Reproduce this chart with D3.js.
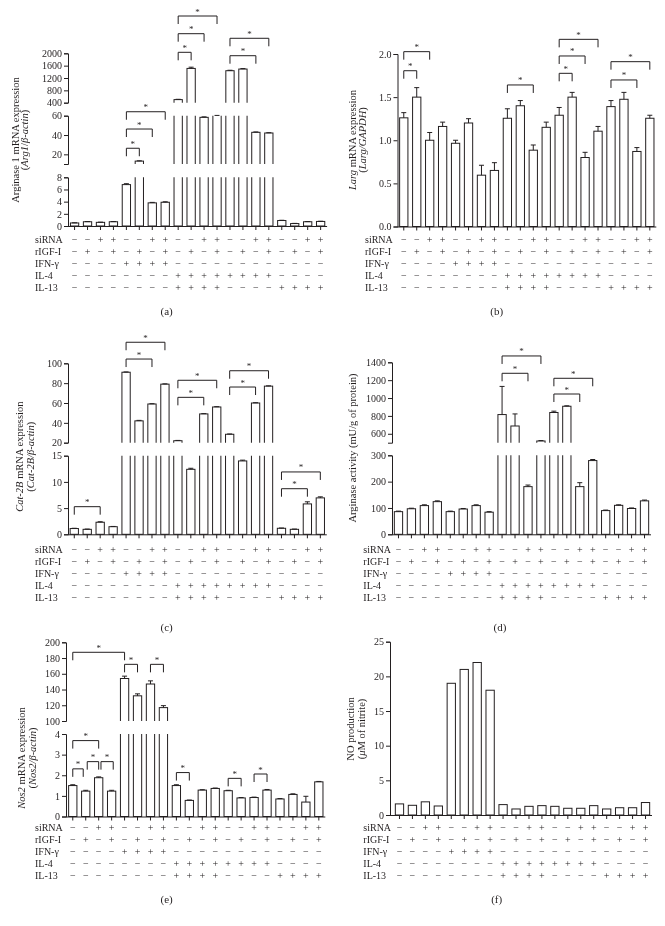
<!DOCTYPE html>
<html><head><meta charset="utf-8">
<script src="https://cdn.jsdelivr.net/npm/d3@7"></script>
<style>
body{margin:0;background:#fff}
svg{display:block;font-family:"Liberation Serif","DejaVu Serif",serif;will-change:transform}
svg text{-webkit-font-smoothing:antialiased}
</style></head><body>
<svg id="chart" width="665" height="926"></svg>
<script>
// ---------------- DATA ----------------
const rowLabels = ["siRNA", "rIGF-I", "IFN-γ", "IL-4", "IL-13"];
const siRNA = ["−","−","+","+","−","−","+","+","−","−","+","+","−","−","+","+","−","−","+","+"];
const rIGF  = ["−","+","−","+","−","+","−","+","−","+","−","+","−","+","−","+","−","+","−","+"];
const IFNg  = ["−","−","−","−","+","+","+","+","−","−","−","−","−","−","−","−","−","−","−","−"];
const IL4   = ["−","−","−","−","−","−","−","−","+","+","+","+","+","+","+","+","−","−","−","−"];
const IL13  = ["−","−","−","−","−","−","−","−","+","+","+","+","−","−","−","−","+","+","+","+"];

// (a) Arginase 1 mRNA
const arg1Values = [0.5,0.7,0.6,0.7, 6.8,13,3.8,3.9, 500,1510,58.3,60, 1436,1490,42.8,42.1, 0.9,0.4,0.7,0.75];
const arg1Errors = [0.03,0.03,0.03,0.03, 0.15,0.3,0.08,0.08, 10,40,0.5,0.3, 15,15,0.4,0.3, 0.04,0.03,0.03,0.03];
const arg1TicksLow = [0,2,4,6,8], arg1TicksMid = [20,40,60], arg1TicksHigh = [400,800,1200,1600,2000];

// (b) Larg mRNA
const largValues = [1.26,1.50,1.00,1.16, 0.965,1.20,0.595,0.65, 1.255,1.40,0.885,1.15, 1.29,1.50,0.80,1.105, 1.39,1.475,0.87,1.255];
const largErrors = [0.06,0.11,0.09,0.05, 0.035,0.05,0.115,0.09, 0.11,0.06,0.06,0.06, 0.09,0.055,0.06,0.055, 0.07,0.08,0.045,0.035];
const largTicks = [0,0.5,1,1.5,2];

// (c) Cat-2B mRNA
const cat2bValues = [1.1,0.95,2.3,1.45, 91,42,59,79, 22,12.4,49,56, 28.5,14,60,77, 1.15,0.95,5.8,6.95];
const cat2bErrors = [0.05,0.05,0.1,0.05, 0.3,0.5,0.3,0.3, 0.3,0.2,0.3,0.3, 0.3,0.15,0.3,0.3, 0.05,0.05,0.4,0.2];
const cat2bTicksLow = [0,5,10,15], cat2bTicksHigh = [20,40,60,80,100];

// (d) Arginase activity
const actValues = [86,97,109,124, 86,96,109,84, 815,687,181,519, 838,908,181,280, 90,110,98,127];
const actErrors = [2,2,3,3, 2,2,3,2, 315,135,6,5, 15,5,15,4, 2,2,2,3];
const actTicksLow = [0,100,200,300], actTicksHigh = [600,800,1000,1200,1400];

// (e) Nos2 mRNA
const nos2Values = [1.5,1.23,1.88,1.23, 154,132,147,117, 1.5,0.78,1.28,1.36, 1.25,0.9,0.92,1.28, 0.85,1.07,0.7,1.68];
const nos2Errors = [0.04,0.04,0.04,0.04, 3,2.5,4,2.5, 0.04,0.02,0.02,0.02, 0.02,0.02,0.02,0.03, 0.02,0.03,0.28,0.02];
const nos2TicksLow = [0,1,2,3,4], nos2TicksHigh = [100,120,140,160,180,200];

// (f) NO production
const noValues = [1.6,1.4,1.9,1.3, 19,21,22,18, 1.5,0.87,1.25,1.35, 1.25,0.97,0.97,1.35, 0.87,1.05,1.05,1.8];
const noTicks = [0,5,10,15,20,25];

// ---------------- DRAWING ----------------
const STEP = 12.95;
const INK = "#231f20";
const svg = d3.select("#chart");
svg.append("rect").attr("width",665).attr("height",926).attr("fill","#fff");
const defs = svg.append("defs");
const signRows = [siRNA, rIGF, IFNg, IL4, IL13];

function panel(cfg) {
  const g = svg.append("g");
  const n = cfg.values.length;
  const x = d3.scaleBand().domain(d3.range(n))
    .range([cfg.x0, cfg.x0 + STEP * n]).paddingInner(0.36).paddingOuter(0.18);
  const bw = x.bandwidth();
  const cx = i => x(i) + bw / 2;
  const segs = cfg.segments.map((s, k) => Object.assign({}, s, {k,
    y: d3.scaleLinear().domain([s.min, s.max]).range([s.yBottom, s.yTop])}));
  const last = segs.length - 1;
  const data = cfg.values.map((v, i) => ({v, i, e: cfg.errors ? cfg.errors[i] : 0}));

  // bars, clipped per axis segment
  segs.forEach(s => {
    const id = cfg.id + "-clip-" + s.k;
    const top = s.yTop - (s.k === last ? 40 : 0);
    const bot = s.yBottom + (s.k === 0 ? 1 : 0);
    defs.append("clipPath").attr("id", id).append("rect")
      .attr("x", cfg.x0 - 3).attr("width", STEP * n + 6)
      .attr("y", top).attr("height", bot - top);
    const tp = d => (d.v >= s.max && s.k !== last) ? s.yTop - 5 : s.y(d.v);
    const bt = () => s.k === 0 ? s.y(0) : s.yBottom + 5;
    g.append("g").attr("clip-path", `url(#${id})`)
      .selectAll("rect").data(data.filter(d => s.k === 0 || d.v > s.min)).join("rect")
      .attr("x", d => x(d.i)).attr("width", bw)
      .attr("y", tp).attr("height", d => bt() - tp(d))
      .attr("fill", "#fff").attr("stroke", INK).attr("stroke-width", 1);
  });

  // error bars
  const eg = g.append("g").attr("stroke", INK).attr("stroke-width", 1).attr("fill", "none");
  data.filter(d => d.e > 0).forEach(d => {
    const s = segs.find(s => d.v <= s.max) || segs[last];
    const y1 = s.y(d.v), y2 = s.y(d.v + d.e);
    eg.append("path").attr("d", `M${cx(d.i)},${y1}V${y2}M${cx(d.i)-2.5},${y2}H${cx(d.i)+2.5}`);
  });

  // y axes per segment
  segs.forEach(s => {
    const ax = d3.axisLeft(s.y).tickValues(s.ticks).tickSize(4).tickSizeOuter(4).tickPadding(2)
      .tickFormat(cfg.fmt || d3.format("d"));
    const ag = g.append("g").attr("transform", `translate(${cfg.axisX},0)`).call(ax);
    ag.attr("font-family", null).attr("font-size", 10);
    ag.selectAll("path,line").attr("stroke", INK);
    ag.selectAll("text").attr("fill", INK);
  });

  // x axis
  const xa = d3.axisBottom(x).tickSize(4).tickSizeOuter(0).tickFormat("");
  const xg = g.append("g").attr("transform", `translate(0,${segs[0].y(0)})`).call(xa);
  xg.select(".domain").attr("d", `M${cfg.axisX},0.5H${cfg.x0 + STEP * n}`);
  xg.selectAll("path,line").attr("stroke", INK);

  // significance brackets
  (cfg.brackets || []).forEach(b => {
    const s = segs[b.seg || 0];
    const y = s.y(b.level);
    const xa1 = cx(b.a) + (b.da || 0), xb1 = cx(b.b) + (b.db || 0);
    g.append("path").attr("fill", "none").attr("stroke", INK).attr("stroke-width", 1)
      .attr("d", `M${xa1},${y + 8}V${y}H${xb1}V${y + 8}`);
    g.append("text").attr("x", (xa1 + xb1) / 2).attr("y", y - 1.5)
      .attr("text-anchor", "middle").attr("font-size", 9).attr("fill", INK).text("*");
  });

  // treatment rows
  signRows.forEach((row, r) => {
    const y = cfg.rowY0 + r * 12;
    g.append("text").attr("x", cfg.labelX).attr("y", y).attr("dominant-baseline", "central")
      .attr("font-size", 10).attr("fill", INK).text(rowLabels[r]);
    g.append("g").selectAll("text").data(row).join("text")
      .attr("x", (d, i) => cx(i)).attr("y", y).attr("dominant-baseline", "central")
      .attr("text-anchor", "middle").attr("font-size", 10).attr("fill", INK).text(d => d);
  });

  // y title (rotated)
  cfg.title.forEach(line => {
    const t = g.append("text")
      .attr("transform", `translate(${line.x},${cfg.titleY}) rotate(-90)`)
      .attr("text-anchor", "middle").attr("dominant-baseline", "central")
      .attr("font-size", 10.5).attr("fill", INK);
    line.parts.forEach(p => t.append("tspan").attr("font-style", p[1] ? "italic" : "normal").text(p[0]));
  });

  // caption
  g.append("text").attr("x", cfg.capX).attr("y", cfg.capY).attr("text-anchor", "middle")
    .attr("dominant-baseline", "central").attr("font-size", 11).attr("fill", INK).text(cfg.caption);
}

panel({
  id: "a", values: arg1Values, errors: arg1Errors, x0: 68.1, axisX: 68,
  segments: [
    {min: 0, max: 8, yBottom: 226, yTop: 177.3, ticks: arg1TicksLow},
    {min: 10, max: 60, yBottom: 164, yTop: 115.7, ticks: arg1TicksMid},
    {min: 400, max: 2000, yBottom: 102.7, yTop: 53.3, ticks: arg1TicksHigh}],
  brackets: [
    {a: 4, b: 5, level: 26.3, seg: 1}, {a: 4, b: 6, level: 46.2, seg: 1}, {a: 4, b: 7, level: 64.1, seg: 1},
    {a: 8, b: 9, level: 2032, seg: 2}, {a: 8, b: 10, level: 2635, seg: 2}, {a: 8, b: 11, level: 3208, seg: 2},
    {a: 12, b: 14, level: 1922, seg: 2}, {a: 12, b: 15, level: 2486, seg: 2}],
  title: [{x: 14.5, parts: [["Arginase 1 mRNA expression", false]]},
          {x: 24, parts: [["(", false], ["Arg1", true], ["/", false], ["β-actin", true], [")", false]]}],
  titleY: 140, labelX: 35, rowY0: 239.5, capX: 166.7, capY: 311, caption: "(a)"
});

panel({
  id: "b", values: largValues, errors: largErrors, x0: 397.3, axisX: 397.5, fmt: d3.format(".1f"),
  segments: [{min: 0, max: 2, yBottom: 226.5, yTop: 54, ticks: largTicks}],
  brackets: [
    {a: 0, b: 1, level: 1.806}, {a: 0, b: 2, level: 2.027}, {a: 8, b: 10, level: 1.641},
    {a: 12, b: 13, level: 1.776}, {a: 12, b: 14, level: 1.977}, {a: 12, b: 15, level: 2.170},
    {a: 16, b: 18, level: 1.699}, {a: 16, b: 19, level: 1.911}],
  title: [{x: 352, parts: [["Larg", true], [" mRNA expression", false]]},
          {x: 362, parts: [["(", false], ["Larg/GAPDH", true], [")", false]]}],
  titleY: 140, labelX: 365, rowY0: 239.5, capX: 496.7, capY: 311, caption: "(b)"
});

panel({
  id: "c", values: cat2bValues, errors: cat2bErrors, x0: 67.8, axisX: 68,
  segments: [
    {min: 0, max: 15, yBottom: 534.3, yTop: 455.7, ticks: cat2bTicksLow},
    {min: 20, max: 100, yBottom: 442.7, yTop: 363.3, ticks: cat2bTicksHigh}],
  brackets: [
    {a: 0, b: 2, level: 5.27, seg: 0},
    {a: 4, b: 6, level: 104.3, seg: 1}, {a: 4, b: 7, level: 121.2, seg: 1},
    {a: 8, b: 10, level: 65.7, seg: 1}, {a: 8, b: 11, level: 82.9, seg: 1},
    {a: 12, b: 14, level: 76.1, seg: 1}, {a: 12, b: 15, level: 92.5, seg: 1},
    {a: 16, b: 18, level: 8.7, seg: 0}, {a: 16, b: 19, level: 11.9, seg: 0}],
  title: [{x: 18.5, parts: [["Cat-2B", true], [" mRNA expression", false]]},
          {x: 30, parts: [["(", false], ["Cat-2B/β-actin", true], [")", false]]}],
  titleY: 456.7, labelX: 35, rowY0: 549.3, capX: 166.7, capY: 627, caption: "(c)"
});

panel({
  id: "d", values: actValues, errors: actErrors, x0: 392, axisX: 392,
  segments: [
    {min: 0, max: 300, yBottom: 534.3, yTop: 455.3, ticks: actTicksLow},
    {min: 500, max: 1400, yBottom: 442.7, yTop: 362.3, ticks: actTicksHigh}],
  brackets: [
    {a: 8, b: 10, level: 1277, seg: 1}, {a: 8, b: 11, level: 1471, seg: 1},
    {a: 12, b: 14, level: 1045, seg: 1}, {a: 12, b: 15, level: 1221, seg: 1}],
  title: [{x: 352, parts: [["Arginase activity (mU/g of protein)", false]]}],
  titleY: 448, labelX: 363.3, rowY0: 549.3, capX: 500, capY: 627, caption: "(d)"
});

panel({
  id: "e", values: nos2Values, errors: nos2Errors, x0: 66.3, axisX: 66,
  segments: [
    {min: 0, max: 4, yBottom: 816.5, yTop: 734, ticks: nos2TicksLow},
    {min: 100, max: 200, yBottom: 721, yTop: 642.3, ticks: nos2TicksHigh}],
  brackets: [
    {a: 0, b: 4, level: 187.3, seg: 1}, {a: 4, b: 5, level: 172, seg: 1}, {a: 6, b: 7, level: 172, seg: 1},
    {a: 0, b: 2, level: 3.68, seg: 0}, {a: 0, b: 1, level: 2.31, seg: 0, db: -2.5},
    {a: 1, b: 2, level: 2.66, seg: 0, da: 1.5}, {a: 2, b: 3, level: 2.66, seg: 0, da: 2.3, db: 1.6},
    {a: 8, b: 9, level: 2.13, seg: 0}, {a: 12, b: 13, level: 1.85, seg: 0}, {a: 14, b: 15, level: 2.06, seg: 0}],
  title: [{x: 21, parts: [["Nos2", true], [" mRNA expression", false]]},
          {x: 31.7, parts: [["(", false], ["Nos2/β-actin", true], [")", false]]}],
  titleY: 758, labelX: 35, rowY0: 827.7, capX: 166.7, capY: 899, caption: "(e)"
});

panel({
  id: "f", values: noValues, errors: null, x0: 393, axisX: 390,
  segments: [{min: 0, max: 25, yBottom: 815, yTop: 641.7, ticks: noTicks}],
  brackets: [],
  title: [{x: 350, parts: [["NO production", false]]},
          {x: 360.7, parts: [["(", false], ["μ", true], ["M of nitrite)", false]]}],
  titleY: 729, labelX: 363.3, rowY0: 827.7, capX: 496.7, capY: 899, caption: "(f)"
});
</script>
</body></html>
